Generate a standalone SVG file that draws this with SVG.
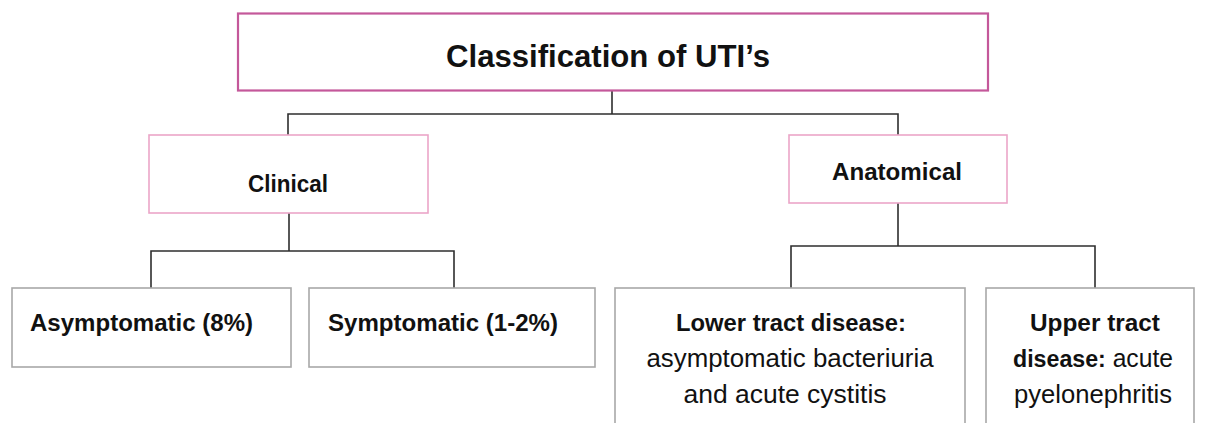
<svg xmlns="http://www.w3.org/2000/svg" width="1207" height="423" viewBox="0 0 1207 423">
<style>
.title{font-family:"Liberation Sans",Arial,sans-serif;font-weight:bold;font-size:31px;fill:#111;}
.b{font-family:"Liberation Sans",Arial,sans-serif;font-weight:bold;font-size:23.5px;fill:#111;}
.r{font-family:"Liberation Sans",Arial,sans-serif;font-size:25px;fill:#111;}
.top{fill:#fff;stroke:#c4589a;stroke-width:2.2;}
.mid{fill:#fff;stroke:#eba6c8;stroke-width:1.6;}
.leaf{fill:#fff;stroke:#a8a8a8;stroke-width:1.6;}
.conn{fill:none;stroke:#2e2e2e;stroke-width:1.6;}
</style>
<rect width="1207" height="423" fill="#fff"/>
<g id="connectors">
<path class="conn" d="M612,90 V114 M288,135 V114 H898 V135"/>
<path class="conn" d="M289,213 V251 M151,288 V251 H454 V288"/>
<path class="conn" d="M898,203 V246 M791,288 V246 H1095 V288"/>
</g>
<g id="root">
<rect class="top" x="238" y="13.5" width="750" height="77"/>
<text class="title" x="608" y="67" text-anchor="middle" textLength="324" lengthAdjust="spacingAndGlyphs">Classification of UTI’s</text>
</g>
<g id="clinical">
<rect class="mid" x="149" y="135" width="279" height="78"/>
<text class="b" x="288" y="192" text-anchor="middle" textLength="80" lengthAdjust="spacingAndGlyphs">Clinical</text>
</g>
<g id="anatomical">
<rect class="mid" x="789" y="135" width="218" height="68"/>
<text class="b" x="897" y="180" text-anchor="middle" textLength="130" lengthAdjust="spacingAndGlyphs">Anatomical</text>
</g>
<g id="asymptomatic">
<rect class="leaf" x="12" y="288" width="279" height="79"/>
<text class="b" x="30" y="331" textLength="223" lengthAdjust="spacingAndGlyphs">Asymptomatic (8%)</text>
</g>
<g id="symptomatic">
<rect class="leaf" x="309" y="288" width="286" height="79"/>
<text class="b" x="328" y="331" textLength="230" lengthAdjust="spacingAndGlyphs">Symptomatic (1-2%)</text>
</g>
<g id="lower">
<rect class="leaf" x="615" y="288" width="350" height="145"/>
<text class="b" x="791" y="331" text-anchor="middle" textLength="230" lengthAdjust="spacingAndGlyphs">Lower tract disease:</text>
<text class="r" x="790" y="367" text-anchor="middle" textLength="287" lengthAdjust="spacingAndGlyphs">asymptomatic bacteriuria</text>
<text class="r" x="785" y="403" text-anchor="middle" textLength="203" lengthAdjust="spacingAndGlyphs">and acute cystitis</text>
</g>
<g id="upper">
<rect class="leaf" x="986" y="288" width="208" height="145"/>
<text class="b" x="1095" y="331" text-anchor="middle" textLength="130" lengthAdjust="spacingAndGlyphs">Upper tract</text>
<text x="1013" y="367" textLength="160" lengthAdjust="spacingAndGlyphs"><tspan class="b">disease:</tspan><tspan class="r"> acute</tspan></text>
<text class="r" x="1093" y="403" text-anchor="middle" textLength="158" lengthAdjust="spacingAndGlyphs">pyelonephritis</text>
</g>
</svg>
